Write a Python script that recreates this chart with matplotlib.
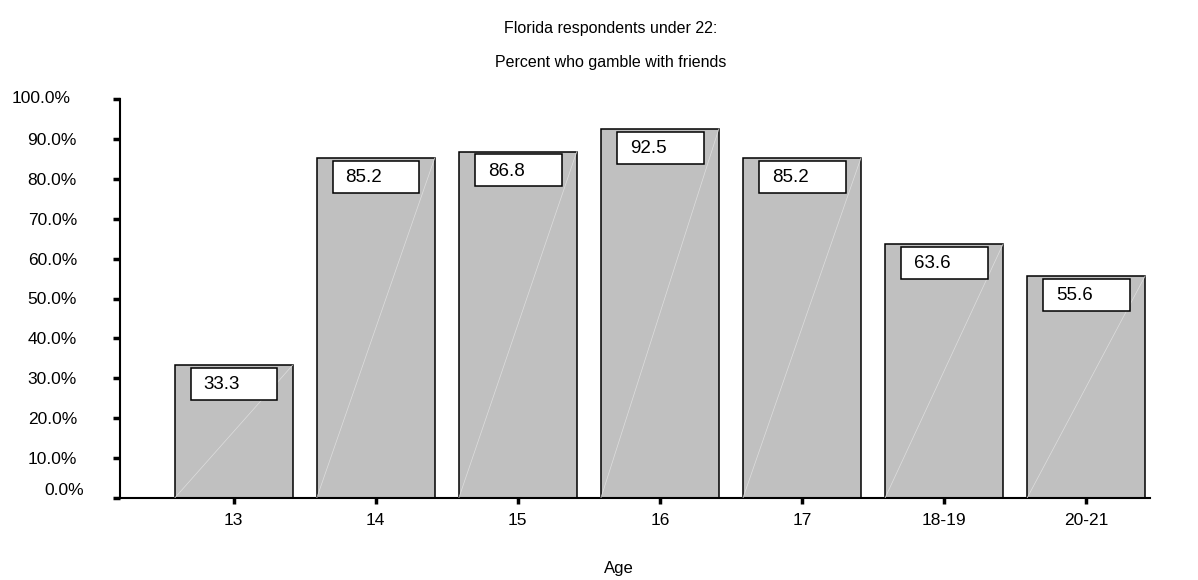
import numpy as np
import matplotlib.pyplot as plt
from matplotlib.patches import Rectangle
import matplotlib.transforms as mtransforms

plt.rcParams['font.family'] = ['Liberation Sans', 'DejaVu Sans']

ages = ['13', '14', '15', '16', '17', '18-19', '20-21']
pct = [33.3, 85.2, 86.8, 92.5, 85.2, 63.6, 55.6]
yticks = [0, 10, 20, 30, 40, 50, 60, 70, 80, 90, 100]

fig = plt.figure(figsize=(11.98, 5.80), dpi=100)
ax = fig.add_axes([120/1198, 82/580, 1030/1198, 399/580])

x = np.arange(len(ages))
w = 0.83
bars = ax.bar(x, pct, width=w, color='#c0c0c0', edgecolor='black', linewidth=1.1, zorder=2)

# faint diagonal streak across each bar
for xi, v in zip(x, pct):
    ax.plot([xi - w/2, xi + w/2], [0, v], color='#dedede', lw=0.5, zorder=3)

# value boxes hanging from the top of each bar
for xi, v in zip(x, pct):
    bx = xi - w/2 + 0.113
    ax.add_patch(Rectangle((bx, v - 0.7 - 8.0), 0.61, 8.0, facecolor='white',
                           edgecolor='black', linewidth=1.1, zorder=4))
    ax.text(bx + 0.09, v - 0.7 - 4.2, f'{v:.1f}', ha='left', va='center',
            fontsize=13.5, zorder=5)

ax.set_xlim(-0.80, 6.45)
ax.set_ylim(0, 100)
ax.set_xticks(x)
ax.set_xticklabels(ages, fontsize=12.5)
ax.set_yticks(yticks)
ax.set_yticklabels([f'{t:.1f}%' for t in yticks], fontsize=12.5)

for s in ['top', 'right']:
    ax.spines[s].set_visible(False)
for s in ['left', 'bottom']:
    ax.spines[s].set_linewidth(1.5)

ax.tick_params(axis='y', direction='out', length=5, width=2.5, pad=26)
ax.tick_params(axis='x', direction='out', length=4, width=2.5, pad=7)

# nudge the end labels
ylabs = ax.get_yticklabels()
ylabs[0].set_transform(ylabs[0].get_transform() +
                       mtransforms.ScaledTranslation(7/100, 9/100, fig.dpi_scale_trans))
ylabs[-1].set_transform(ylabs[-1].get_transform() +
                        mtransforms.ScaledTranslation(-6/100, 2/100, fig.dpi_scale_trans))

fig.text(611/1198, 1 - 28/580, 'Florida respondents under 22:', ha='center', va='center', fontsize=11.5)
fig.text(611/1198, 1 - 63/580, 'Percent who gamble with friends', ha='center', va='center', fontsize=11.5)
fig.text(619/1198, 1 - 569/580, 'Age', ha='center', va='center', fontsize=12)

fig.savefig('out.png', dpi=100)
